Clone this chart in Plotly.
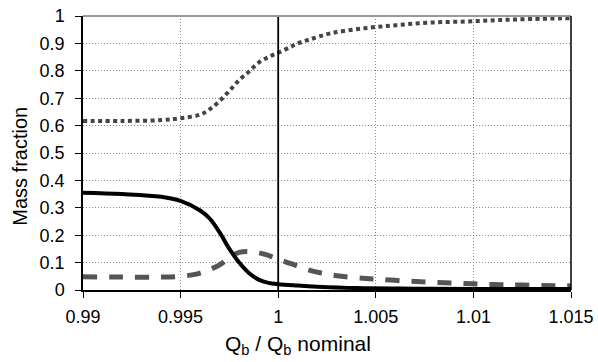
import plotly.graph_objects as go

# Solid curve (black)
solid_x = [0.990, 0.992, 0.994, 0.995, 0.996, 0.9965, 0.9970, 0.9975, 0.9980, 0.9985, 0.9990, 0.9995, 1.0000, 1.0010, 1.0020, 1.0040, 1.0070, 1.0100, 1.0150]
solid_y = [0.355, 0.350, 0.340, 0.325, 0.290, 0.260, 0.210, 0.150, 0.100, 0.062, 0.038, 0.026, 0.021, 0.016, 0.012, 0.007, 0.005, 0.004, 0.004]

# Dashed curve (gray)
dash_x = [0.990, 0.992, 0.994, 0.995, 0.9958, 0.9964, 0.9970, 0.9975, 0.9980, 0.9985, 0.9990, 0.9995, 1.0000, 1.0007, 1.0015, 1.0022, 1.0030, 1.0040, 1.0050, 1.0065, 1.0080, 1.0095, 1.0110, 1.0125, 1.0150]
dash_y = [0.048, 0.047, 0.047, 0.050, 0.058, 0.072, 0.092, 0.118, 0.137, 0.140, 0.136, 0.126, 0.112, 0.095, 0.074, 0.062, 0.052, 0.045, 0.040, 0.033, 0.028, 0.024, 0.020, 0.018, 0.015]

# Dotted curve (gray)
dot_x = [0.990, 0.992, 0.994, 0.995, 0.996, 0.9965, 0.9970, 0.9975, 0.9980, 0.9985, 0.9990, 0.9995, 1.0000, 1.0006, 1.0010, 1.0016, 1.0027, 1.0044, 1.0061, 1.0078, 1.0096, 1.0113, 1.0130, 1.0150]
dot_y = [0.617, 0.617, 0.620, 0.627, 0.640, 0.660, 0.690, 0.727, 0.766, 0.797, 0.830, 0.850, 0.866, 0.886, 0.900, 0.914, 0.937, 0.955, 0.967, 0.976, 0.980, 0.985, 0.989, 0.992]

nominal_x = 1.0

x_ticks = [0.99, 0.995, 1.0, 1.005, 1.01, 1.015]
x_tick_labels = ["0.99", "0.995", "1", "1.005", "1.01", "1.015"]
y_ticks = [0, 0.1, 0.2, 0.3, 0.4, 0.5, 0.6, 0.7, 0.8, 0.9, 1.0]
y_tick_labels = ["0", "0.1", "0.2", "0.3", "0.4", "0.5", "0.6", "0.7", "0.8", "0.9", "1"]

x_title = "Q<sub>b</sub> / Q<sub>b</sub> nominal"
y_title = "Mass fraction"

fig = go.Figure()

fig.add_trace(go.Scatter(x=dot_x, y=dot_y, mode="lines", line=dict(color="#444444", width=4, dash="4px,3.5px", shape="spline"), showlegend=False))
fig.add_trace(go.Scatter(x=dash_x, y=dash_y, mode="lines", line=dict(color="#555555", width=5, dash="14px,12px", shape="spline"), showlegend=False))
fig.add_trace(go.Scatter(x=solid_x, y=solid_y, mode="lines", line=dict(color="black", width=4, shape="spline"), showlegend=False))
fig.add_trace(go.Scatter(x=[nominal_x, nominal_x], y=[0, 1], mode="lines", line=dict(color="black", width=1.8), showlegend=False))

font_family = "Liberation Sans, Arial, sans-serif"

fig.update_layout(
    width=598, height=362,
    margin=dict(l=83, r=27, t=16, b=72),
    paper_bgcolor="white", plot_bgcolor="white",
    font=dict(family=font_family, color="black", size=17),
    xaxis=dict(
        range=[0.99, 1.015], tickvals=x_ticks, ticktext=x_tick_labels,
        showgrid=True, gridcolor="#8a8a8a", griddash="1px,2px", gridwidth=1,
        showline=True, linecolor="black", linewidth=1.5, mirror=False,
        ticks="outside", ticklen=6, tickcolor="black", tickfont=dict(size=18),
        ticklabelstandoff=4, automargin=False,
        zeroline=False,
    ),
    yaxis=dict(
        range=[0, 1], tickvals=y_ticks, ticktext=y_tick_labels,
        showgrid=True, gridcolor="#8a8a8a", griddash="1px,2px", gridwidth=1,
        showline=True, linecolor="black", linewidth=1.5,
        ticks="outside", ticklen=6, tickcolor="black", tickfont=dict(size=18),
        ticklabelstandoff=7, automargin=False,
        zeroline=False,
    ),
    shapes=[
        dict(type="line", xref="paper", yref="paper", x0=0, x1=1, y0=1, y1=1, line=dict(color="#999999", width=2)),
        dict(type="line", xref="paper", yref="paper", x0=1, x1=1, y0=0, y1=1, line=dict(color="black", width=1.5)),
    ],
    annotations=[
        dict(text=x_title, xref="paper", yref="paper", x=0.44, y=-0.20, xanchor="center", yanchor="middle",
             showarrow=False, font=dict(size=21)),
        dict(text=y_title, xref="paper", yref="paper", x=-0.129, y=0.45, xanchor="center", yanchor="middle",
             textangle=-90, showarrow=False, font=dict(size=20)),
    ],
)

fig.write_html("out.html")
